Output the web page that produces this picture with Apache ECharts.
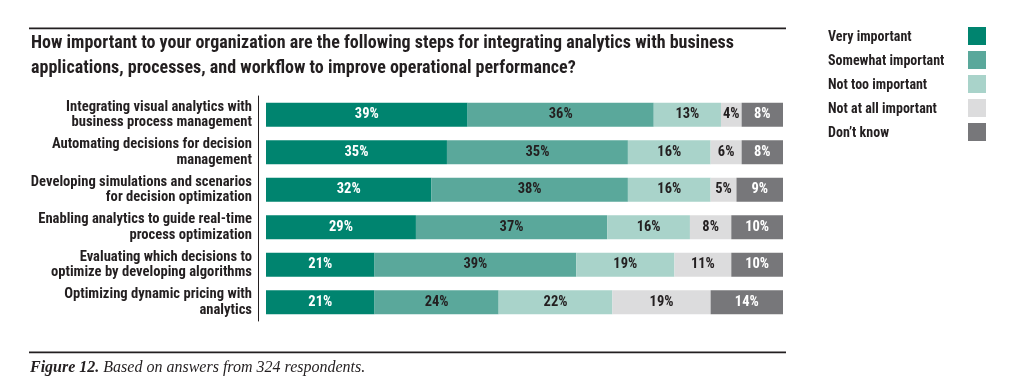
<!DOCTYPE html>
<html>
<head>
<meta charset="utf-8">
<script src="https://cdn.jsdelivr.net/npm/echarts@6/dist/echarts.min.js"></script>
<style>
html,body{margin:0;padding:0;background:#fff;}
#c{width:1013px;height:390px;}
</style>
</head>
<body>
<div id="c"></div>
<script>
const categories = [
  "Integrating visual analytics with\nbusiness process management",
  "Automating decisions for decision\nmanagement",
  "Developing simulations and scenarios\nfor decision optimization",
  "Enabling analytics to guide real-time\nprocess optimization",
  "Evaluating which decisions to\noptimize by developing algorithms",
  "Optimizing dynamic pricing with\nanalytics"
];
const seriesNames = ["Very important", "Somewhat important", "Not too important", "Not at all important", "Don\u2019t know"];
const veryImportant = [39, 35, 32, 29, 21, 21];
const somewhatImportant = [36, 35, 38, 37, 39, 24];
const notTooImportant = [13, 16, 16, 16, 19, 22];
const notAtAllImportant = [4, 6, 5, 8, 11, 19];
const dontKnow = [8, 8, 9, 10, 10, 14];
const seriesData = [veryImportant, somewhatImportant, notTooImportant, notAtAllImportant, dontKnow];
const colors = ["#00846f", "#5aa89b", "#a9d3ca", "#dcdcdd", "#77777a"];
const labelColors = ["#ffffff", "#231f20", "#231f20", "#231f20", "#ffffff"];

const FONT = "'Roboto Condensed', 'DejaVu Sans Condensed', sans-serif";
const SERIF = "'Liberation Serif', 'DejaVu Serif', serif";
const TXT = "#231f20";

const chart = echarts.init(document.getElementById('c'), null, {renderer: 'canvas'});
chart.setOption({
  animation: false,
  backgroundColor: '#ffffff',
  title: {
    text: "How important to your organization are the following steps for integrating analytics with business\napplications, processes, and workflow to improve operational performance?",
    left: 31, top: 31.5, padding: 0,
    textStyle: {fontFamily: FONT, fontWeight: 'bold', fontSize: 18, lineHeight: 24.5, color: TXT}
  },
  legend: {
    orient: 'vertical',
    left: 828, top: 27, padding: 0,
    align: 'right',
    icon: 'rect',
    itemWidth: 18, itemHeight: 18,
    itemGap: 6,
    data: seriesNames,
    formatter: function (n) { return '{n|' + n + '}'; },
    textStyle: {
      fontFamily: FONT, fontWeight: 'bold', fontSize: 14, color: TXT,
      rich: {n: {width: 135, align: 'left', padding: [3, 0, 0, 0], fontFamily: FONT, fontWeight: 'bold', fontSize: 14, color: TXT}}
    }
  },
  grid: {left: 266, right: 230, top: 96, height: 225, containLabel: false},
  xAxis: {type: 'value', min: 0, max: 100, show: false},
  yAxis: {
    type: 'category', data: categories, inverse: true, offset: 8,
    axisLine: {show: true, onZero: false, lineStyle: {color: '#231f20', width: 1}},
    axisTick: {show: false},
    axisLabel: {margin: 6, padding: [4, 0, 0, 0], fontFamily: FONT, fontWeight: 'bold', fontSize: 14.6, lineHeight: 15.5, color: TXT, align: 'right'}
  },
  graphic: [
    {type: 'line', shape: {x1: 29, y1: 28.3, x2: 786, y2: 28.3}, style: {stroke: '#231f20', lineWidth: 1.8}},
    {type: 'line', shape: {x1: 29, y1: 352.3, x2: 786, y2: 352.3}, style: {stroke: '#231f20', lineWidth: 1.8}},
    {type: 'text', left: 30, top: 360, style: {
      text: '{b|Figure 12.} Based on answers from 324 respondents.',
      font: "italic 16px " + SERIF, fill: TXT,
      rich: {b: {fontFamily: SERIF, fontStyle: 'italic', fontWeight: 'bold', fontSize: 16, fill: TXT}}
    }}
  ],
  series: seriesData.map((d, i) => ({
    name: seriesNames[i],
    type: 'bar', stack: 'total', barWidth: 24,
    data: d,
    itemStyle: {color: colors[i]},
    label: {show: true, position: 'inside', formatter: '{c}%', fontFamily: FONT, fontWeight: 'bold', fontSize: 14.5, color: labelColors[i]},
    emphasis: {disabled: true}
  }))
});
</script>
</body>
</html>
